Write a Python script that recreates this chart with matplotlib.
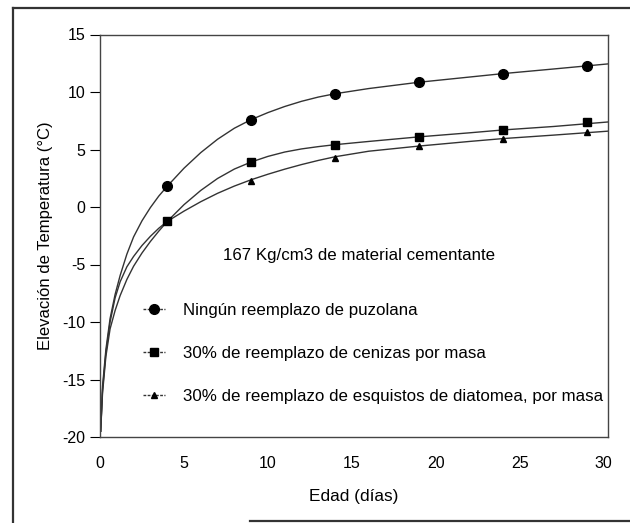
import matplotlib.pyplot as plt
from matplotlib.lines import Line2D

plt.rcParams['font.family'] = ['Liberation Sans', 'DejaVu Sans']
plt.rcParams['axes.unicode_minus'] = False

# Measured points (days, temperature rise in C)
dias_pts = [4, 9, 14, 19, 24, 29]
sin_puzolana = [1.8, 7.6, 9.8, 10.9, 11.6, 12.3]
cenizas = [-1.26, 3.9, 5.4, 6.1, 6.7, 7.4]
esquistos = [-1.26, 2.3, 4.3, 5.3, 5.9, 6.5]

# Fitted curves
dias_curva = [0.04, 0.15, 0.35, 0.6, 0.9, 1.2, 1.6, 2, 2.5, 3, 3.5, 4, 5, 6, 7,
              8, 9, 10, 11, 12, 13, 14, 16, 19, 22, 24, 27, 30.3]
curva_sin = [-19.5, -15.6, -12.4, -9.7, -7.6, -5.95, -4.1, -2.6, -1.2, -0.05, 0.95,
             1.8, 3.37, 4.73, 5.89, 6.85, 7.6, 8.21, 8.74, 9.19, 9.56, 9.85,
             10.3, 10.85, 11.3, 11.6, 12.0, 12.45]
curva_cen = [-19.5, -16.2, -13.0, -10.6, -9.0, -7.7, -6.3, -5.15, -4.0, -3.0,
             -2.1, -1.26, 0.2, 1.44, 2.48, 3.3, 3.91, 4.4, 4.78, 5.05, 5.25,
             5.42, 5.7, 6.1, 6.45, 6.7, 7.0, 7.4]
curva_esq = [-19.5, -15.9, -12.7, -10.0, -7.9, -6.5, -5.2, -4.3, -3.35, -2.55,
             -1.85, -1.26, -0.36, 0.46, 1.19, 1.82, 2.37, 2.85, 3.29, 3.69,
             4.05, 4.37, 4.85, 5.3, 5.7, 5.95, 6.25, 6.6]

etiquetas = ['Ningún reemplazo de puzolana',
             '30% de reemplazo de cenizas por masa',
             '30% de reemplazo de esquistos de diatomea, por masa']

fig = plt.figure(figsize=(6.3, 5.23), dpi=100)
ax = fig.add_axes([100 / 630, 1 - 437 / 523, 508 / 630, 402.5 / 523])

for curva in (curva_sin, curva_cen, curva_esq):
    ax.plot(dias_curva, curva, color='#333333', lw=1.0)

ax.plot(dias_pts, sin_puzolana, 'o', color='black', ms=7)
ax.plot(dias_pts, cenizas, 's', color='black', ms=5.5)
ax.plot(dias_pts, esquistos, '^', color='black', ms=5)

ax.set_xlim(0, 30.25)
ax.set_ylim(-20, 15)
ax.set_xticks([0, 5, 10, 15, 20, 25, 30])
ax.set_yticks([-20, -15, -10, -5, 0, 5, 10, 15])
ax.tick_params(axis='y', direction='out', length=7, width=0.8, labelsize=11.5)
ax.tick_params(axis='x', length=0, labelsize=11.5, pad=13.5)
for s in ax.spines.values():
    s.set_linewidth(1.0)
    s.set_color('#444444')

ax.set_xlabel('Edad (días)', fontsize=12.4, labelpad=13)
ax.set_ylabel('Elevación de Temperatura (°C)', fontsize=12, labelpad=7)

ax.text(15.4, -4.2, '167 Kg/cm3 de material cementante', fontsize=12.2,
        ha='center', va='center')

handles = [
    Line2D([], [], color='#333333', lw=1, ls=(0, (2, 1)), marker='o', ms=7, mfc='black', mec='black'),
    Line2D([], [], color='#333333', lw=1, ls=(0, (2, 1)), marker='s', ms=5.5, mfc='black', mec='black'),
    Line2D([], [], color='#333333', lw=1, ls=(0, (2, 1)), marker='^', ms=5, mfc='black', mec='black'),
]
ax.legend(handles, etiquetas, loc='upper left', bbox_to_anchor=(0.085, 0.333),
          frameon=False, fontsize=12.2, handlelength=1.3, handletextpad=1.07,
          labelspacing=1.65, borderaxespad=0, borderpad=0)

# outer frame of the scanned figure
fig.add_artist(Line2D([13 / 630, 13 / 630], [0, 1 - 8 / 523], transform=fig.transFigure, color='#333333', lw=1.6))
fig.add_artist(Line2D([13 / 630, 1], [1 - 8 / 523, 1 - 8 / 523], transform=fig.transFigure, color='#333333', lw=1.6))
fig.add_artist(Line2D([250 / 630, 1], [1 - 521 / 523, 1 - 521 / 523], transform=fig.transFigure, color='#333333', lw=1.6))

fig.savefig('out.png', dpi=100)
